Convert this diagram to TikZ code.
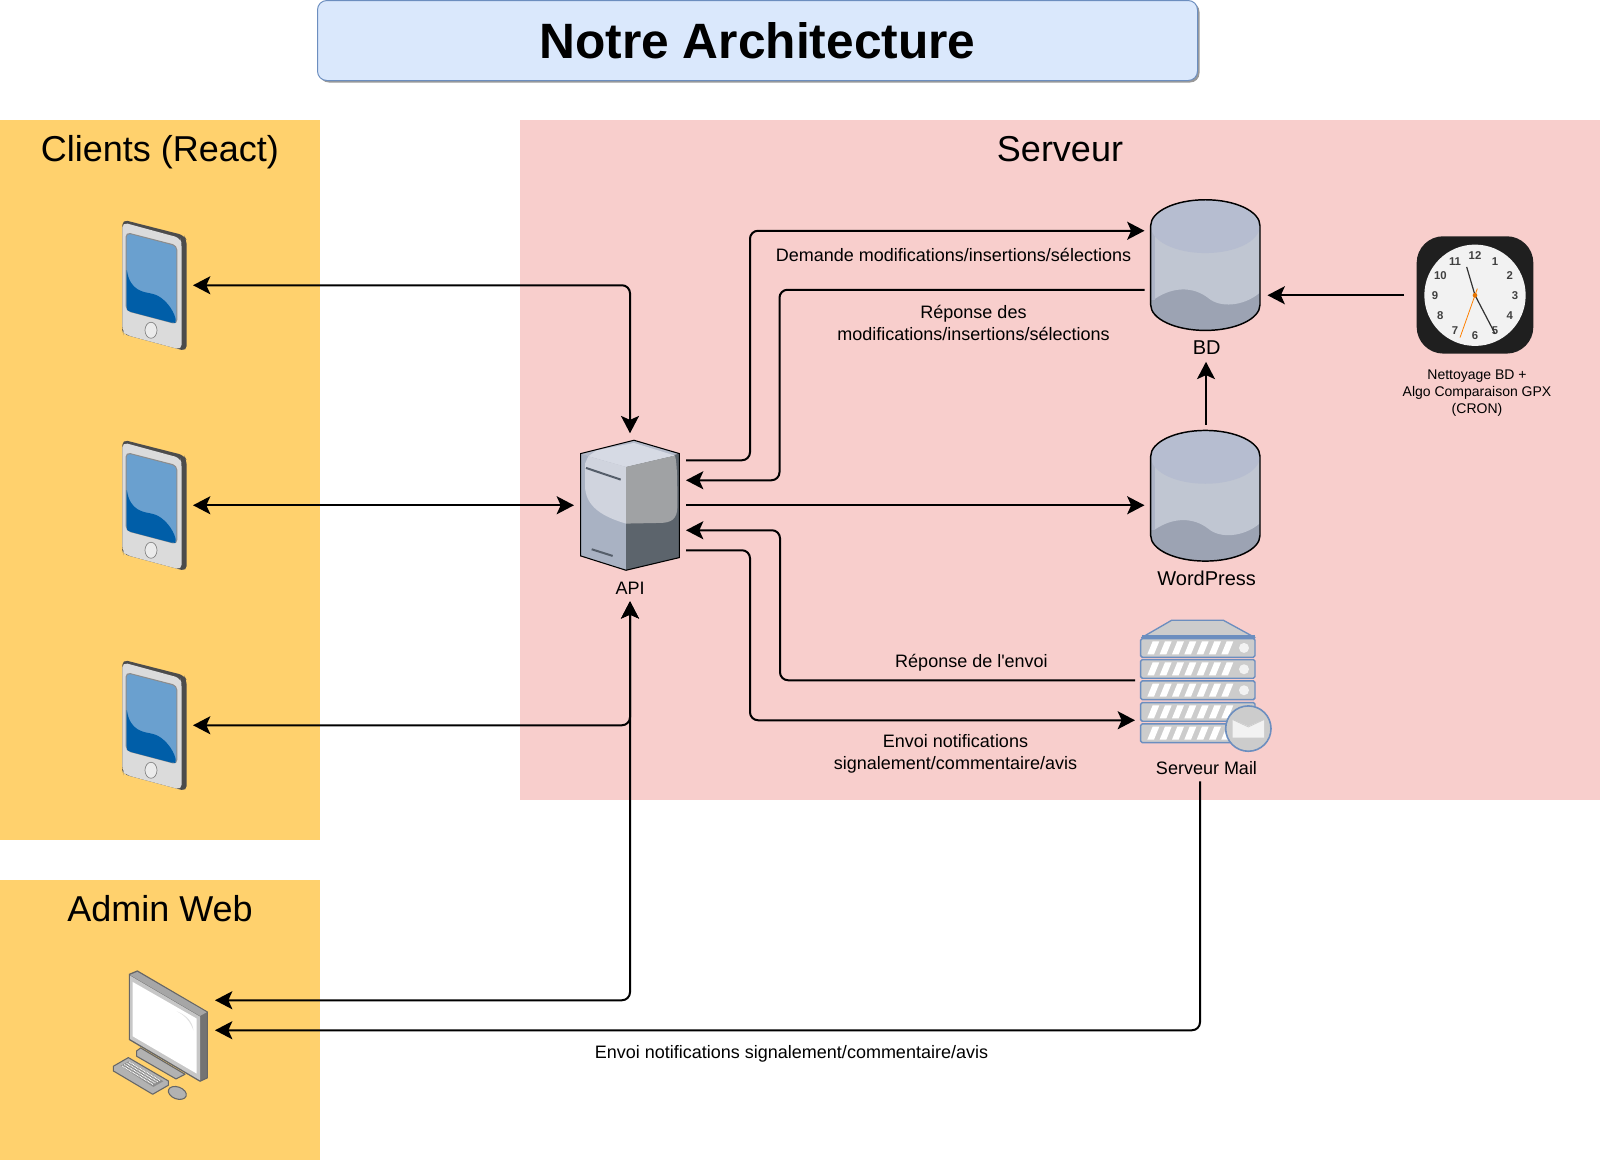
\documentclass[tikz,border=0pt]{standalone}
\usepackage{fontspec}
\setmainfont{Liberation Sans}[Ligatures=TeXOff]
\usetikzlibrary{arrows.meta,calc,shadows}
\definecolor{panelyellow}{HTML}{FFD16D}
\definecolor{panelred}{HTML}{F8CECC}
\definecolor{titlefill}{HTML}{DAE8FC}
\definecolor{titleline}{HTML}{6C8EBF}
\definecolor{screenlight}{HTML}{6AA0CF}
\definecolor{screendark}{HTML}{005EA8}
\definecolor{cylbottom}{HTML}{9CA3B3}
\definecolor{cylstrip}{HTML}{ADB4C6}
\definecolor{cylmiddle}{HTML}{C0C6D2}
\definecolor{cyltop}{HTML}{B6BDD0}
\definecolor{apileft}{HTML}{A9B2C3}
\definecolor{apiright}{HTML}{5C646C}
\definecolor{apitop}{HTML}{B5BCCB}
\definecolor{apiglosstop}{HTML}{D6DAE4}
\definecolor{apiglossleft}{HTML}{D0D4DE}
\definecolor{apiglossright}{HTML}{A0A2A4}
\definecolor{apibar}{HTML}{555E6A}

\tikzset{
	iconbox/.style={inner sep=0, outer sep=0},
	panel/.style={rectangle, inner sep=0, outer sep=0},
	paneltitle/.style={font=\fontsize{27}{32}\selectfont},
	notetext/.style={align=center, inner sep=0, font=\fontsize{13.5}{16.5}\selectfont},
	icontext/.style={align=center, inner sep=0, outer sep=0, minimum height=19.5pt, font=\fontsize{13.5}{16.5}\selectfont},
	bigicontext/.style={align=center, inner sep=0, outer sep=0, minimum height=21pt, font=\fontsize{15}{18}\selectfont},
	link/.style={line width=1.5pt, rounded corners=6pt},
	pics/phoneicon/.style={code={
		\begin{scope}[x=.25pt,y=-.25pt,shift={(-163.5,-255)}]
			\fill[black!70,rounded corners=4pt] (67,58) -- (252,105) -- (260,120) -- (260,453) -- (70,402) -- (67,390) -- cycle;
			\fill[black!14,rounded corners=4pt] (67,66) -- (240,113) -- (245,130) -- (245,449) -- (78,404) -- (67,392) -- cycle;
			\fill[black!45,rounded corners=3.5pt] (77,95) -- (232,135) -- (232,373) -- (77,332) -- cycle;
			\fill[screenlight,rounded corners=3pt] (80,99) -- (229,138) -- (229,369) -- (80,329) -- cycle;
			\fill[screendark,rounded corners=2pt] (80,205) .. controls (90,270) and (130,275) .. (155,280) .. controls (190,290) and (220,325) .. (229,365) -- (222,369) -- (85,333) -- (80,325) -- cycle;
			\filldraw[fill=black!8,draw=black!50,line width=.5pt] (153,390) ellipse [x radius=18,y radius=24];
		\end{scope}
	}},
	pics/apiicon/.style={code={
		\begin{scope}[x=.25pt,y=-.25pt,shift={(-210,-255)}]
			\fill[apitop] (62,100) -- (222,60) -- (358,100) -- (198,140) -- cycle;
			\fill[apileft] (62,100) -- (198,140) -- (198,450) -- (62,407) -- cycle;
			\fill[apiright] (198,140) -- (358,100) -- (358,412) -- (198,450) -- cycle;
			\fill[apiglosstop] (85,108) -- (110,90) -- (222,68) -- (345,106) -- (198,140) -- cycle;
			\fill[apiglossleft] (85,108) -- (198,140) -- (198,310) .. controls (130,290) and (75,260) .. (75,195) -- (75,130) -- cycle;
			\fill[apiglossright] (198,140) -- (345,106) .. controls (352,130) and (352,200) .. (352,260) .. controls (352,295) and (335,308) .. (300,308) -- (198,310) -- cycle;
			\draw[apibar,line width=1.5pt] (78,143) -- (182,178) (95,387) -- (158,407);
			\draw[black,line width=.8pt] (62,100) -- (222,60) -- (358,100) -- (358,412) -- (198,450) -- (62,407) -- cycle;
		\end{scope}
	}},
	pics/cylindericon/.style={code={
		\begin{scope}[x=.25pt,y=-.25pt,shift={(-228,-241.5)}]
			\fill[cylbottom] (62,123) -- (62,360) arc [start angle=180,end angle=0,x radius=164,y radius=77] -- (390,123) -- cycle;
			\fill[cylstrip] (62,123) rectangle (75,345);
			\fill[cylmiddle] (75,130) -- (75,342) .. controls (130,305) and (190,305) .. (235,340) .. controls (270,370) and (340,365) .. (388,325) -- (388,130) -- cycle;
			\fill[cyltop] (226,125) ellipse [x radius=163,y radius=80];
			\draw[black,line width=1.1pt] (62,123) -- (62,360) arc [start angle=180,end angle=0,x radius=164,y radius=77] -- (390,123) arc [start angle=0,end angle=-180,x radius=164,y radius=78];
		\end{scope}
	}},
	pics/mailicon/.style={code={
		\begin{scope}[x=.25pt,y=-.25pt,shift={(-262.5,-240)}]
			\filldraw[fill=black!20,draw=titleline,line width=1pt,line join=round] (65,112) -- (155,60) -- (310,60) -- (405,112) -- cycle;
			\fill[titleline] (65,105) rectangle (405,118);
			\foreach \y in {115,178,242,307,371} {
				\filldraw[fill=black!20,draw=titleline,line width=1.1pt,rounded corners=1.2pt] (62,\y) rectangle (405,\y+56);
				\foreach \s in {0,...,6}
					\fill[white] (\s*37+82,\y+47) -- (\s*37+102,\y+47) -- (\s*37+118,\y+8) -- (\s*37+98,\y+8) -- cycle;
			}
			\foreach \y in {143,207,270}
				\fill[white!95!black] (372,\y) circle [radius=15];
			\filldraw[fill=black!20,draw=titleline,line width=1.2pt] (385,385) circle [radius=68];
			\fill[white!95!black] (338,358) -- (385,378) -- (432,358) -- (432,412) -- (338,412) -- cycle;
			\draw[black!20,line width=.6pt] (338,358) -- (385,380) -- (432,358);
		\end{scope}
	}},
	pics/clockicon/.style={code={
		\begin{scope}[x=.25pt,y=-.25pt]
			\fill[black!88,rounded corners=20pt] (-175,-177) rectangle (175,175);
			\fill[black!5] (0,0) circle [radius=152];
			\foreach \h in {1,...,12}
				\node[black!75,inner sep=0,font=\fontsize{8.5}{10}\bfseries\selectfont] at ({120*sin(30*\h)},{2-120*cos(30*\h)}) {\h};
			\draw[black!80,line width=.9pt] (0,0) -- (-25,-85);
			\draw[black!80,line width=.9pt] (0,0) -- (60,115);
			\draw[orange,line width=.6pt] (7,-20) -- (-45,127);
			\fill[orange!90!black] (0,0) circle [radius=7];
		\end{scope}
	}},
	pics/screenicon/.style={code={
		\begin{scope}[x=.25pt,y=-.25pt,shift={(-180,-195)}]
			% stand, keyboard, mouse
			\filldraw[fill=black!30,draw=black!60,line width=.8pt,line join=round] (110,302) -- (122,293) -- (255,372) -- (228,386) -- (110,318) -- cycle;
			\filldraw[fill=black!30,draw=black!60,line width=.8pt,line join=round] (40,348) -- (85,322) -- (205,392) -- (205,405) -- (158,432) -- (40,362) -- cycle;
			\fill[black!45] (62,347) -- (87,333) -- (190,393) -- (160,410) -- cycle;
			\foreach \t in {0,...,3}
				\draw[white,line width=.8pt,dash pattern=on .7pt off .5pt] (66+\t*7,347-\t*4) -- (160+\t*7,403-\t*4);
			\filldraw[fill=black!30,draw=black!60,line width=.8pt] (232,428) ellipse [x radius=28,y radius=18,rotate=-20];
			% monitor
			\filldraw[fill=black!55,draw=black!60,line width=.8pt,line join=round] (88,72) -- (112,62) -- (322,185) -- (322,383) -- (300,393) -- (88,268) -- cycle;
			\fill[black!35] (90,74) -- (112,65) -- (320,186) -- (300,197) -- cycle;
			\fill[black!22] (90,76) -- (300,199) -- (300,390) -- (90,266) -- cycle;
			\fill[white] (98,95) -- (290,205) -- (290,370) -- (98,258) -- cycle;
			\fill[black!12] (230,183) .. controls (260,195) and (278,215) .. (280,240) .. controls (272,215) and (255,195) .. cycle;
		\end{scope}
	}}
}

\begin{document}
\begin{tikzpicture}[x=.75pt, y=-.75pt, >={Stealth[length=13pt,width=13.5pt,inset=3pt]}]
	\useasboundingbox (0,0) rectangle (1600,1161);

	% Panels
	\node (clients) [panel, fill=panelyellow, minimum width=240.15pt, minimum height=540pt] at (160.1,480.2) {};
	\node (admin panel) [panel, fill=panelyellow, minimum width=240.15pt, minimum height=210pt] at (160.1,1020.2) {};
	\node (server) [panel, fill=panelred, minimum width=809.85pt, minimum height=510pt] at (1060.1,460.2) {};
	\node (title) [draw=titleline, fill=titlefill, rounded corners=7pt, line width=.75pt, minimum width=660pt, minimum height=60pt, inner sep=0, drop shadow={shadow xshift=1.5pt, shadow yshift=-1.5pt, fill=black!50, opacity=.8}, font=\fontsize{37.25}{42}\bfseries\selectfont] at (757.5,40.5) {Notre Architecture};
	\node (clients title) [paneltitle] at (160,152) {Clients (React)};
	\node (admin title) [paneltitle] at (160,909) {Admin Web};
	\node (server title) [paneltitle] at (1060,149) {Serveur};

	% Devices
	\node (phone1) [iconbox, minimum width=57.75pt, minimum height=99pt] at (154.5,285.25) {};
	\node (phone2) [iconbox, minimum width=57.75pt, minimum height=99pt, below of=phone1, node distance=165pt] {};
	\node (phone3) [iconbox, minimum width=57.75pt, minimum height=99pt, below of=phone2, node distance=165pt] {};
	\node (admin) [iconbox, minimum width=82.5pt, minimum height=120pt] at (160,1015.25) {};
	\node (api) [iconbox, minimum width=84pt, minimum height=108pt] at (630,505.25) {};
	\node (apiLabel) [icontext, below of=api, node distance=62.25pt] {API};
	\node (bd) [iconbox, minimum width=92.25pt, minimum height=107pt] at (1206,265.25) {};
	\node (bdLabel) [bigicontext, below of=bd, node distance=61.9pt, xshift=.5pt] {BD};
	\node (wp) [iconbox, minimum width=92.25pt, minimum height=107pt, below of=bd, node distance=173pt] {};
	\node (wpLabel) [bigicontext, below of=wp, node distance=61.9pt, xshift=.5pt] {WordPress};
	\node (mail) [iconbox, minimum width=108.75pt, minimum height=95pt] at (1207.5,680.25) {};
	\node (mailLabel) [icontext, below of=mail, node distance=66pt, xshift=-.75pt] {Serveur Mail};
	\node (clock) [iconbox, minimum width=106.5pt, minimum height=88pt] at (1475,295.25) {};
	\node (clockLabel) [align=center, inner sep=0, font=\fontsize{10.5}{12.75}\selectfont] at (1477,393) {Nettoyage BD +\\Algo Comparaison GPX\\(CRON)};

	\pic at (phone1) {phoneicon};
	\pic at (phone2) {phoneicon};
	\pic at (phone3) {phoneicon};
	\pic at (admin) {screenicon};
	\pic at (api) {apiicon};
	\pic at (bd) {cylindericon};
	\pic at (wp) {cylindericon};
	\pic at (mail) {mailicon};
	\pic at (clock) {clockicon};

	% Arrows
	\draw[<->, link] (phone1.east) -| (api.north);
	\draw[<->, link] (phone2.east) -- (api.west);
	\draw[<->, link] (phone3.east) -| (apiLabel.south);
	\draw[<->, link] ($(admin.east)+(0,-15)$) -| (apiLabel.south);
	\draw[->, link] ($(api.east)+(0,-45)$) -- ++(64,0) |- ($(bd.west)+(0,-34.5)$);
	\draw[->, link] ($(bd.west)+(0,24.5)$) -- ++(-365,0) |- ($(api.east)+(0,-25)$);
	\draw[->, link] (api.east) -- (wp.west |- api.east);
	\draw[->, link] (mail.west) -- ++(-355,0) |- ($(api.east)+(0,25)$);
	\draw[->, link] ($(api.east)+(0,45)$) -- ++(64,0) |- ($(mail.west)+(0,40)$);
	\draw[->, link] (wp.north) -- (bd.south |- bdLabel.south);
	\draw[->, link] (clock.west) -- (bd.east |- clock.west);
	\draw[->, link] ($(mailLabel.south)+(-6.5,0)$) |- ($(admin.east)+(0,15)$);

	% Arrow texts
	\node (askNote) [notetext] at (953.5,255) {Demande modifications/insertions/sélections};
	\node (answerNote) [notetext] at (973.5,323) {Réponse des\\modifications/insertions/sélections};
	\node (sentNote) [notetext] at (971.5,663) {Réponse de l'envoi};
	\node (sendNote) [notetext] at (955.5,754) {Envoi notifications\\signalement/commentaire/avis};
	\node (adminNote) [notetext] at (791.5,1054) {Envoi notifications signalement/commentaire/avis};
\end{tikzpicture}
\end{document}
